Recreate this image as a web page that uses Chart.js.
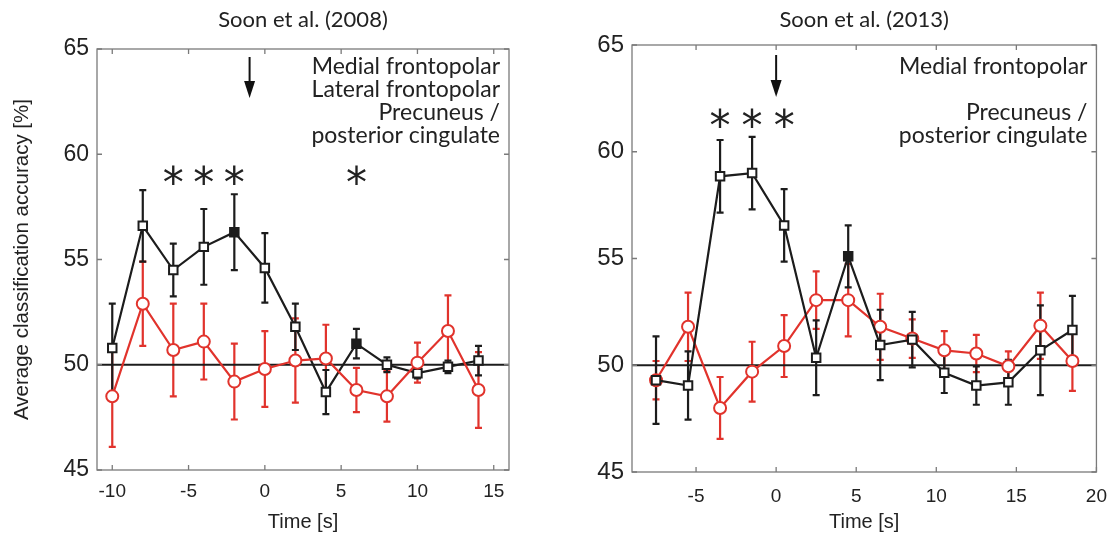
<!DOCTYPE html>
<html>
<head>
<style>
  body { margin: 0; background: #fff; width: 1120px; height: 538px; position: relative; overflow: hidden; }
  .panel { position: absolute; top: 0; height: 538px; }
  #left { left: 0; width: 540px; }
  #right { left: 540px; width: 580px; }
</style>
<script src="https://cdn.jsdelivr.net/npm/chart.js"></script>
</head>
<body>
<div class="panel" id="left"><canvas id="chart2008"></canvas></div>
<div class="panel" id="right"><canvas id="chart2013"></canvas></div>
<script>
// Soon et al. (2008)
var time2008 = [-10, -8, -6, -4, -2, 0, 2, 4, 6, 8, 10, 12, 14];
var frontopolar2008 = [50.8, 56.6, 54.5, 55.6, 56.3, 54.6, 51.8, 48.7, 51.0, 50.0, 49.6, 49.9, 50.2];
var frontopolarErr2008 = [2.1, 1.7, 1.25, 1.8, 1.8, 1.65, 1.1, 1.05, 0.7, 0.35, 0.25, 0.3, 0.7];
var precuneus2008 = [48.5, 52.9, 50.7, 51.1, 49.2, 49.8, 50.2, 50.3, 48.8, 48.5, 50.1, 51.6, 48.8];
var precuneusErr2008 = [2.4, 2.0, 2.2, 1.8, 1.8, 1.8, 2.0, 1.6, 1.05, 1.2, 0.95, 1.7, 1.8];
var filled2008 = [-2, 6];
var stars2008 = [-6, -4, -2, 6];
var xTicks2008 = [-10, -5, 0, 5, 10, 15];
var regions2008 = ['Medial frontopolar', 'Lateral frontopolar', 'Precuneus /', 'posterior cingulate'];

// Soon et al. (2013)
var time2013 = [-7.5, -5.5, -3.5, -1.5, 0.5, 2.5, 4.5, 6.5, 8.5, 10.5, 12.5, 14.5, 16.5, 18.5];
var frontopolar2013 = [49.3, 49.05, 58.85, 59.0, 56.55, 50.35, 55.1, 50.95, 51.2, 49.65, 49.05, 49.2, 50.7, 51.65];
var frontopolarErr2013 = [2.05, 1.6, 1.7, 1.7, 1.7, 1.75, 1.45, 1.65, 1.3, 0.95, 0.9, 1.05, 2.1, 1.6];
var precuneus2013 = [49.3, 51.8, 48.0, 49.7, 50.9, 53.05, 53.05, 51.8, 51.25, 50.7, 50.55, 49.95, 51.85, 50.2];
var precuneusErr2013 = [0.9, 1.6, 1.45, 1.4, 1.45, 1.35, 1.7, 1.55, 0.9, 0.9, 0.87, 0.7, 1.55, 1.4];
var filled2013 = [4.5];
var stars2013 = [-3.5, -1.5, 0.5];
var xTicks2013 = [-5, 0, 5, 10, 15, 20];
var regions2013 = ['Medial frontopolar', '', 'Precuneus /', 'posterior cingulate'];

var yTicks = [45, 50, 55, 60, 65];
var chance = 50;

var BLACK = '#1c1c1c';
var RED = '#e1332c';

// error bars and the chance line, drawn under the lines
var errorBars = {
    id: 'errorBars',
    beforeDatasetsDraw: function(chart) {
        var ctx = chart.ctx, ys = chart.scales.y;
        chart.data.datasets.forEach(function(ds, i) {
            var meta = chart.getDatasetMeta(i);
            ctx.save();
            ctx.strokeStyle = ds.borderColor;
            ctx.lineWidth = 2.2;
            meta.data.forEach(function(pt, j) {
                var v = ds.data[j].y, e = ds.errors[j];
                var top = ys.getPixelForValue(v + e), bot = ys.getPixelForValue(v - e);
                ctx.beginPath();
                ctx.moveTo(pt.x, top); ctx.lineTo(pt.x, bot);
                ctx.moveTo(pt.x - 3.5, top); ctx.lineTo(pt.x + 3.5, top);
                ctx.moveTo(pt.x - 3.5, bot); ctx.lineTo(pt.x + 3.5, bot);
                ctx.stroke();
            });
            ctx.restore();
        });
        var y50 = ys.getPixelForValue(chance);
        ctx.save();
        ctx.strokeStyle = BLACK;
        ctx.lineWidth = 2;
        ctx.beginPath();
        ctx.moveTo(chart.chartArea.left, y50);
        ctx.lineTo(chart.chartArea.right, y50);
        ctx.stroke();
        ctx.restore();
    }
};

// box + inward ticks, title, arrow, stars, region labels
var decor = {
    id: 'decor',
    afterDraw: function(chart, args, o) {
        var ctx = chart.ctx, a = chart.chartArea, xs = chart.scales.x, ys = chart.scales.y;
        ctx.save();
        ctx.strokeStyle = '#7a7a7a';
        ctx.lineWidth = 1.3;
        ctx.strokeRect(a.left, a.top, a.right - a.left, a.bottom - a.top);
        ctx.beginPath();
        xs.ticks.forEach(function(t) {
            var px = xs.getPixelForValue(t.value);
            ctx.moveTo(px, a.bottom); ctx.lineTo(px, a.bottom - 5);
            ctx.moveTo(px, a.top); ctx.lineTo(px, a.top + 5);
        });
        ys.ticks.forEach(function(t) {
            var py = ys.getPixelForValue(t.value);
            ctx.moveTo(a.left, py); ctx.lineTo(a.left + 5, py);
            ctx.moveTo(a.right, py); ctx.lineTo(a.right - 5, py);
        });
        ctx.stroke();

        // title
        ctx.fillStyle = '#222';
        ctx.font = '22px Lato';
        ctx.textAlign = 'center';
        ctx.textBaseline = 'middle';
        ctx.fillText(o.title, (a.left + a.right) / 2, 20);

        // region labels
        ctx.font = '23px Lato';
        ctx.textAlign = 'right';
        o.regions.forEach(function(r, i) {
            if (r) ctx.fillText(r, a.right - 9, o.labelY[i]);
        });

        // arrow
        var ax = xs.getPixelForValue(o.arrowX);
        ctx.strokeStyle = '#111';
        ctx.fillStyle = '#111';
        ctx.lineWidth = 2;
        ctx.beginPath();
        ctx.moveTo(ax, o.arrowTop); ctx.lineTo(ax, o.arrowBottom - 12);
        ctx.stroke();
        ctx.beginPath();
        ctx.moveTo(ax - 5.5, o.arrowBottom - 17);
        ctx.lineTo(ax + 5.5, o.arrowBottom - 17);
        ctx.lineTo(ax, o.arrowBottom);
        ctx.closePath();
        ctx.fill();

        // significance stars
        ctx.fillStyle = '#222';
        ctx.font = '42px "DejaVu Sans"';
        ctx.textAlign = 'center';
        ctx.textBaseline = 'alphabetic';
        var m = ctx.measureText('*');
        var shift = (m.actualBoundingBoxAscent - m.actualBoundingBoxDescent) / 2;
        var sy = ys.getPixelForValue(o.starY);
        o.stars.forEach(function(s) {
            ctx.fillText('*', xs.getPixelForValue(s), sy + shift);
        });
        ctx.restore();
    }
};

function points(xs, ys) {
    return xs.map(function(x, i) { return { x: x, y: ys[i] }; });
}

function fills(xs, filled, color) {
    return xs.map(function(x) { return filled.indexOf(x) >= 0 ? color : '#fff'; });
}

function makeChart(id, cfg) {
    return new Chart(document.getElementById(id), {
        type: 'line',
        data: {
            datasets: [{
                label: 'Precuneus / posterior cingulate',
                data: points(cfg.time, cfg.prec),
                errors: cfg.precErr,
                borderColor: RED,
                borderWidth: 2.2,
                pointStyle: 'circle',
                pointRadius: 6,
                pointBorderWidth: 2,
                pointBackgroundColor: '#fff',
                pointBorderColor: RED,
                order: cfg.redOrder
            }, {
                label: 'Medial frontopolar',
                data: points(cfg.time, cfg.front),
                errors: cfg.frontErr,
                borderColor: BLACK,
                borderWidth: 2.2,
                pointStyle: 'rect',
                pointRadius: 6,
                pointBorderWidth: 2,
                pointBackgroundColor: fills(cfg.time, cfg.filled, BLACK),
                pointBorderColor: BLACK,
                order: 1
            }]
        },
        options: {
            responsive: true,
            maintainAspectRatio: false,
            animation: false,
            layout: { padding: { top: cfg.top, right: cfg.right, left: 0, bottom: 0 } },
            plugins: {
                legend: { display: false },
                tooltip: { enabled: false },
                decor: cfg.decor
            },
            scales: {
                x: {
                    type: 'linear',
                    min: cfg.xMin,
                    max: cfg.xMax,
                    afterBuildTicks: function(s) { s.ticks = cfg.xTicks.map(function(v) { return { value: v }; }); },
                    afterFit: function(s) { s.height = cfg.xHeight; },
                    grid: { display: false, drawTicks: false },
                    border: { display: false },
                    ticks: { padding: cfg.xPad, color: '#222', font: { family: 'Liberation Sans', size: 19 }, maxRotation: 0 },
                    title: { display: true, text: 'Time [s]', color: '#222', font: { family: 'Liberation Sans', size: 20 }, padding: { top: 0, bottom: 4 } }
                },
                y: {
                    min: 45,
                    max: 65,
                    afterBuildTicks: function(s) { s.ticks = yTicks.map(function(v) { return { value: v }; }); },
                    afterFit: function(s) { s.width = cfg.yWidth; },
                    grid: { display: false, drawTicks: false },
                    border: { display: false },
                    ticks: { padding: 8, color: '#222', font: { family: 'Liberation Sans', size: cfg.yTickSize } },
                    title: { display: cfg.yTitle, text: 'Average classification accuracy [%]', color: '#222', font: { family: 'Liberation Sans', size: 20.5 }, padding: { top: 10, bottom: 0 } }
                }
            }
        },
        plugins: [errorBars, decor]
    });
}

makeChart('chart2008', {
    time: time2008, front: frontopolar2008, frontErr: frontopolarErr2008,
    prec: precuneus2008, precErr: precuneusErr2008, filled: filled2008,
    xTicks: xTicks2008, xMin: -11, xMax: 16, redOrder: 0,
    top: 49, right: 31, yWidth: 97, xHeight: 68, xPad: 10, yTitle: true, yTickSize: 23,
    decor: { title: 'Soon et al. (2008)', regions: regions2008, labelY: [67, 90, 113, 136],
             arrowX: -1, arrowTop: 57, arrowBottom: 98, stars: stars2008, starY: 59.0 }
});

makeChart('chart2013', {
    time: time2013, front: frontopolar2013, frontErr: frontopolarErr2013,
    prec: precuneus2013, precErr: precuneusErr2013, filled: filled2013,
    xTicks: xTicks2013, xMin: -9, xMax: 20, redOrder: 2,
    top: 45, right: 23.5, yWidth: 92, xHeight: 66, xPad: 13, yTitle: false, yTickSize: 24,
    decor: { title: 'Soon et al. (2013)', regions: regions2013, labelY: [67, 90, 113, 136],
             arrowX: 0, arrowTop: 55, arrowBottom: 97, stars: stars2013, starY: 61.6 }
});
</script>
</body>
</html>
